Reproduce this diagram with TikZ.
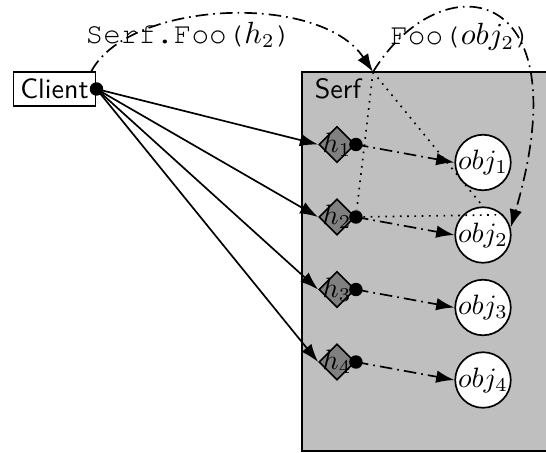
\documentclass[tikz,border=0pt]{standalone}
\usepackage{amsmath}
\usepackage{tikz}
\usetikzlibrary{arrows.meta}
\usetikzlibrary{shapes.geometric}

\newcommand{\courierfont}{\fontencoding{T1}\fontfamily{pcr}\fontsize{10.5}{12}\selectfont}

\tikzset{
	handle/.style={diamond, draw, fill=gray, inner sep=0pt, minimum size=12.9pt},
	object/.style={circle, draw, fill=white, inner sep=0pt},
	ref/.style={-{Latex[length=6.5pt,width=4.5pt]}},
	call/.style={dash pattern=on 4.5pt off 1.8pt on 0.6pt off 1.8pt,
		-{Latex[length=6.5pt,width=4.5pt]}},
	blob/.style={circle, fill=black, inner sep=0pt, minimum size=4.8pt}
}

\begin{document}
\begin{tikzpicture}[x=0.3571pt,y=0.3571pt,semithick]
\clip (0,0) rectangle (546,452);
\draw[fill=gray!50] (302,1) rectangle (600,380);
\node[font=\sffamily] (serf) at (338,363) {Serf};
\coordinate (entry) at (373,380);

\node[draw, fill=white, inner sep=2.5pt, font=\sffamily] (client) at (54.5,363) {Client};

\foreach \i in {1,...,4} {
	\pgfmathsetmacro{\y}{307.5-72.5*(\i-1)}
	\node[object] (obj\i) at (483,\y-18) {$obj_\i$};
	\node[handle, label=center:$h_\i$] (h\i) at (337,\y) {};
	\draw[ref] (client.east) -- (h\i.west);
	\draw[call] (h\i.east) -- (obj\i.west);
	\node[blob] (d\i) at (h\i.east) {};
}
\node[blob] (dc) at (client.east) {};

\draw[dotted] (entry) -- (d2);
\draw[dotted] (entry) -- (obj2.north);
\draw[dotted] (d2) -- (obj2.north east);

\draw[call] ([xshift=-1.8pt]client.north east) .. controls +(38,71) and +(-53,80) .. (entry);
\draw[call] (entry) .. controls +(67,110) and +(73,248) .. (obj2.15);

\node[font=\courierfont] (fooserf) at (189,417) {Serf.Foo($h_2$)};
\node[font=\courierfont] (fooobj) at (461,415) {Foo($obj_2$)};
\end{tikzpicture}
\end{document}
